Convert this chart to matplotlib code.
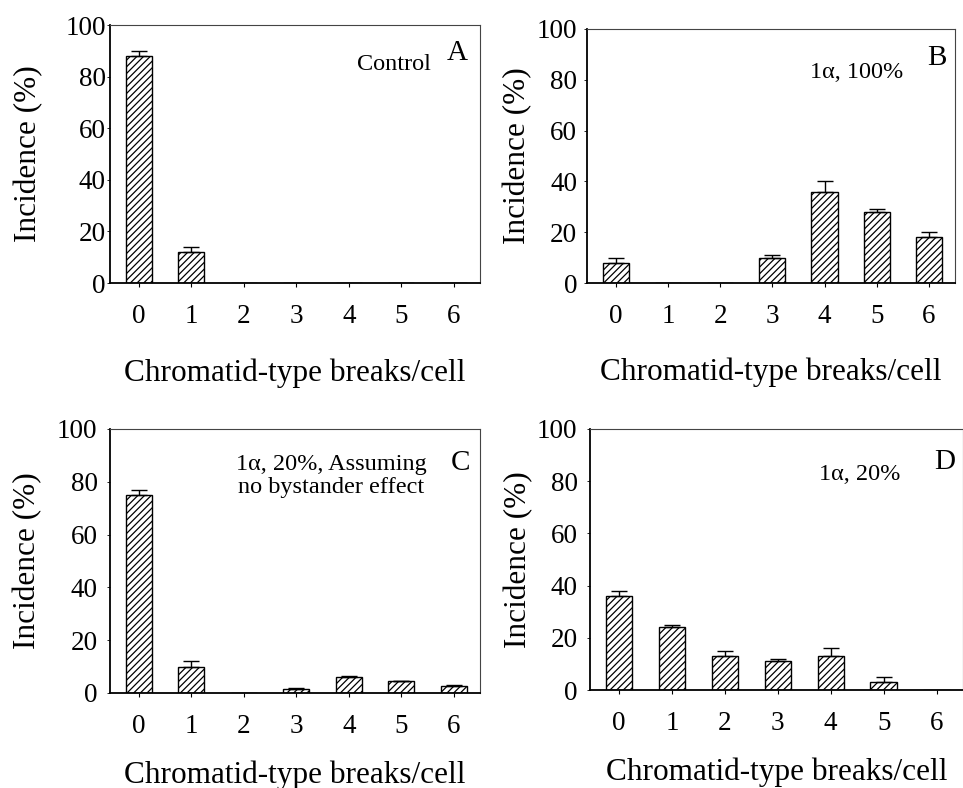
import matplotlib
matplotlib.use("Agg")
import matplotlib.pyplot as plt
import numpy as np

plt.rcParams['font.family'] = ['Liberation Serif', 'DejaVu Serif']
plt.rcParams['hatch.linewidth'] = 0.9

breaks = [0, 1, 2, 3, 4, 5, 6]

# panel values (incidence %) and upper error bars
ctrl_vals = [88, 12, 0, 0, 0, 0, 0]
ctrl_err = [2, 2, 0, 0, 0, 0, 0]
full_vals = [8, 0, 0, 10, 36, 28, 18]
full_err = [2, 0, 0, 1, 4, 1, 2]
nobys_vals = [75, 10, 0, 1.6, 6, 4.5, 2.8]
nobys_err = [2, 2, 0, 0.3, 0.6, 0.2, 0.3]
part_vals = [36, 24, 13, 11, 13, 3, 0]
part_err = [2, 1, 2, 1, 3, 2, 0]

W, H = 963, 788
fig = plt.figure(figsize=(W / 100, H / 100), dpi=100)

def px_axes(l, t, r, b):
    return fig.add_axes([l / W, 1 - b / H, (r - l) / W, (b - t) / H])

panels = [
    # (left, top, right, bottom), values, errors, ylabel x, xlabel y, ytick pad
    ((110, 25, 480, 283), ctrl_vals, ctrl_err, -0.181, -0.292, 1),
    ((587, 29, 955, 283), full_vals, full_err, -0.149, -0.293, 5),
    ((110, 429, 480, 693), nobys_vals, nobys_err, -0.184, -0.254, 7),
    ((590, 429, 963, 690), part_vals, part_err, -0.153, -0.257, 7),
]

axes = []
for box, vals, err, ylx, xly, ypad in panels:
    ax = px_axes(*box)
    mask = [v > 0 for v in vals]
    ax.bar(breaks, vals, width=0.5, color='white', edgecolor='black',
           hatch='/////', linewidth=1.0, zorder=2)
    xs = [x for x, m in zip(breaks, mask) if m]
    ys = [v for v, m in zip(vals, mask) if m]
    es = [e for e, m in zip(err, mask) if m]
    ax.errorbar(xs, ys, yerr=[np.zeros(len(es)), es], fmt='none',
                ecolor='black', elinewidth=1.0, capsize=5.5, capthick=1.0, zorder=3)
    ax.set_xlim(-0.55, 6.5)
    ax.set_ylim(0, 100)
    ax.set_yticks([0, 20, 40, 60, 80, 100])
    ax.set_xticks(breaks)
    ax.tick_params(axis='x', direction='out', length=3, width=0.8, pad=12, labelsize=19.5)
    ax.tick_params(axis='y', direction='out', length=2, width=0.6, pad=ypad, labelsize=19.5)
    for s in ['left', 'bottom']:
        ax.spines[s].set_linewidth(1.3)
    for s in ['top', 'right']:
        ax.spines[s].set_linewidth(0.8)
        ax.spines[s].set_color('#444444')
    ax.set_ylabel('Incidence (%)', fontsize=22.5)
    ax.set_xlabel('Chromatid-type breaks/cell', fontsize=22.5)
    ax.yaxis.set_label_coords(ylx, 0.5)
    ax.xaxis.set_label_coords(0.5, xly)
    axes.append(ax)

def ftext(x, y, s, size, **kw):
    fig.text(x / W, 1 - y / H, s, fontsize=size, ha='center', va='center', **kw)

ftext(394, 65, 'Control', 17.5)
ftext(457, 53, 'A', 21)
ftext(857, 72, '1\u03b1, 100%', 17.5)
ftext(937, 58, 'B', 21)
ftext(331, 476, '1\u03b1, 20%, Assuming\nno bystander effect', 17.5, linespacing=1.1)
ftext(460, 463, 'C', 21)
ftext(860, 475, '1\u03b1, 20%', 17.5)
ftext(945, 462, 'D', 21)

fig.savefig('out.png', dpi=100)
